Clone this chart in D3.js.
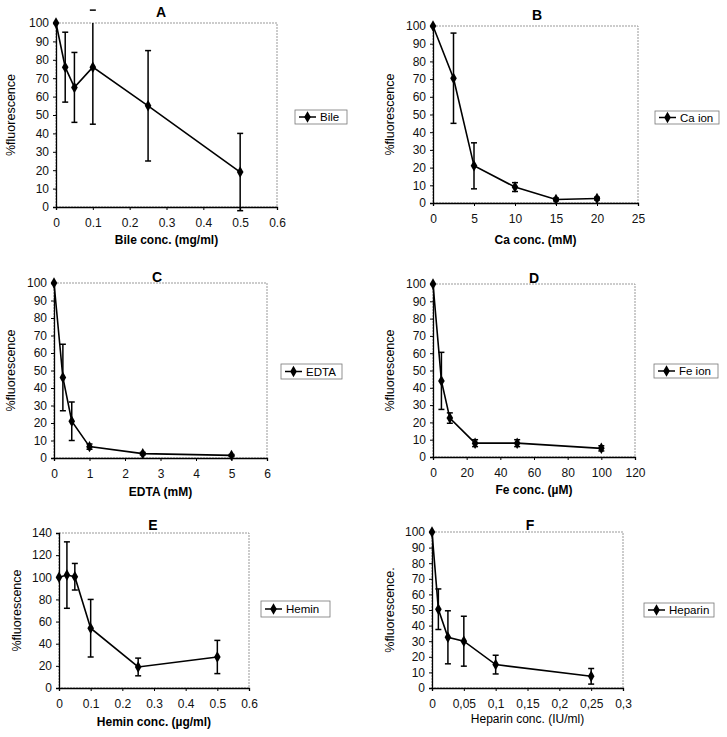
<!DOCTYPE html>
<html><head><meta charset="utf-8">
<script src="https://cdn.jsdelivr.net/npm/d3@7"></script>
<style>body{margin:0;background:#fff}svg{display:block}text{font-family:"Liberation Sans",Arial,sans-serif}</style>
</head><body>
<svg id="c" width="727" height="737"></svg>
<script>
// Panel A – Bile
const bileX = [0, 0.025, 0.05, 0.1, 0.25, 0.5];
const bileY = [100, 76, 65, 76, 55, 19];
const bileErr = [0, 19, 19, 31, 30, 21];
// Panel B – Ca ion
const caX = [0, 2.5, 5, 10, 15, 20];
const caY = [100, 70.5, 21, 9, 2, 2.5];
const caErr = [0, 25.5, 13, 2.5, 0.8, 0.8];
// Panel C – EDTA
const edtaX = [0, 0.25, 0.5, 1, 2.5, 5];
const edtaY = [100, 46, 21, 6.5, 2.5, 1.5];
const edtaErr = [0, 19, 11, 1.5, 0.7, 0.5];
// Panel D – Fe ion
const feX = [0, 5, 10, 25, 50, 100];
const feY = [100, 44, 22.5, 8, 8, 5];
const feErr = [0, 16.5, 3, 2, 2, 1.5];
// Panel E – Hemin
const heminX = [0, 0.025, 0.05, 0.1, 0.25, 0.5];
const heminY = [100, 102, 100.5, 54, 19, 28];
const heminErr = [0, 30, 12, 26, 8, 15];
// Panel F – Heparin
const heparinX = [0, 0.01, 0.025, 0.05, 0.1, 0.25];
const heparinY = [100, 50.5, 32.5, 30, 15, 7.5];
const heparinErr = [0, 13, 17, 16, 6, 5];

// tick labels
const xTicksA = ["0","0.1","0.2","0.3","0.4","0.5","0.6"];
const xTicksB = ["0","5","10","15","20","25"];
const xTicksC = ["0","1","2","3","4","5","6"];
const xTicksD = ["0","20","40","60","80","100","120"];
const xTicksE = ["0","0.1","0.2","0.3","0.4","0.5","0.6"];
const xTicksF = ["0","0,05","0,1","0,15","0,2","0,25","0,3"];

const panels = [
  {t:"A", x:bileX, y:bileY, e:bileErr, xt:xTicksA, xmax:0.6, ymax:100, ystep:10, name:"Bile", xlab:"Bile conc. (mg/ml)", xbold:true, ylab:"%fluorescence",
   L:56, R:277, T:23, B:207, tx:161, ty:17, lg:[295,110,52,14], xly:244, yl:15},
  {t:"B", x:caX, y:caY, e:caErr, xt:xTicksB, xmax:25, ymax:100, ystep:10, name:"Ca ion", xlab:"Ca conc. (mM)", xbold:true, ylab:"%fluorescence",
   L:433, R:638, T:26, B:203, tx:537, ty:20, lg:[655,111,64,13], xly:244, yl:394},
  {t:"C", x:edtaX, y:edtaY, e:edtaErr, xt:xTicksC, xmax:6, ymax:100, ystep:10, name:"EDTA", xlab:"EDTA (mM)", xbold:true, ylab:"%fluorescence",
   L:54, R:267, T:283, B:458, tx:157, ty:282, lg:[281,364,61,15], xly:496, yl:15},
  {t:"D", x:feX, y:feY, e:feErr, xt:xTicksD, xmax:120, ymax:100, ystep:10, name:"Fe ion", xlab:"Fe conc. (\u00b5M)", xbold:true, ylab:"%fluorescence",
   L:433, R:635, T:284, B:457, tx:534, ty:283, lg:[654,364,64,14], xly:494, yl:394},
  {t:"E", x:heminX, y:heminY, e:heminErr, xt:xTicksE, xmax:0.6, ymax:140, ystep:20, name:"Hemin", xlab:"Hemin conc. (\u00b5g/ml)", xbold:true, ylab:"%fluorescence",
   L:59, R:249, T:533, B:688, tx:153, ty:530, lg:[261,601,69,16], xly:726, yl:21},
  {t:"F", x:heparinX, y:heparinY, e:heparinErr, xt:xTicksF, xmax:0.3, ymax:100, ystep:10, name:"Heparin", xlab:"Heparin conc. (IU/ml)", xbold:false, ylab:"%fluorescence.",
   L:432, R:623, T:532, B:688, tx:530, ty:530, lg:[644,603,70,14], xly:723, yl:394}
];

const svg = d3.select("#c");
const diamond = d3.symbol().type(d3.symbolDiamond).size(38);

panels.forEach(p => {
  const g = svg.append("g");
  const x = d3.scaleLinear().domain([0, p.xmax]).range([p.L, p.R]);
  const y = d3.scaleLinear().domain([0, p.ymax]).range([p.B, p.T]);
  // plot box
  g.append("rect").attr("x", p.L).attr("y", p.T).attr("width", p.R - p.L).attr("height", p.B - p.T)
    .attr("fill", "none").attr("stroke", "#999").attr("stroke-width", 1).attr("stroke-dasharray", "2,1");
  // axes
  const nx = p.xt.length;
  const xTickVals = d3.range(nx).map(i => i * p.xmax / (nx - 1));
  const xa = g.append("g").attr("transform", `translate(0,${p.B})`)
    .call(d3.axisBottom(x).tickValues(xTickVals).tickFormat((d,i) => p.xt[i]).tickSize(3).tickPadding(8));
  const yTickVals = d3.range(0, p.ymax + 0.001, p.ystep);
  const ya = g.append("g").attr("transform", `translate(${p.L},0)`)
    .call(d3.axisLeft(y).tickValues(yTickVals).tickFormat(d3.format("d")).tickSize(3).tickPadding(4));
  [xa, ya].forEach(a => {
    a.select(".domain").attr("stroke", "#000").attr("stroke-width", 1.3);
    a.selectAll("line").attr("stroke", "#000");
    a.selectAll("text").attr("font-size", 12).attr("fill", "#111").attr("font-family", "Liberation Sans, Arial, sans-serif");
  });
  // error bars (vertical line clipped to plot top, caps drawn)
  const clipId = "clip" + p.t;
  svg.append("clipPath").attr("id", clipId).append("rect")
    .attr("x", p.L - 10).attr("y", p.T).attr("width", p.R - p.L + 20).attr("height", p.B - p.T + 10);
  const eb = g.append("g");
  p.x.forEach((xv, i) => {
    const err = p.e[i];
    if (err <= 0) return;
    const cx = x(xv), y1 = y(p.y[i] + err), y2 = y(p.y[i] - err);
    eb.append("line").attr("x1", cx).attr("x2", cx).attr("y1", y1).attr("y2", y2)
      .attr("stroke", "#000").attr("stroke-width", 1.5).attr("clip-path", `url(#${clipId})`);
    [y1, y2].forEach(yy => eb.append("line").attr("x1", cx - 3).attr("x2", cx + 3).attr("y1", yy).attr("y2", yy)
      .attr("stroke", "#000").attr("stroke-width", 1.5));
  });
  // line
  const line = d3.line().x((d,i) => x(p.x[i])).y((d,i) => y(p.y[i]));
  g.append("path").datum(p.y).attr("d", line).attr("fill", "none").attr("stroke", "#000").attr("stroke-width", 1.6);
  // markers
  g.selectAll(".m").data(p.y).enter().append("path")
    .attr("d", diamond).attr("transform", (d,i) => `translate(${x(p.x[i])},${y(d)})`).attr("fill", "#000");
  // title
  g.append("text").attr("x", p.tx).attr("y", p.ty).attr("text-anchor", "middle")
    .attr("font-size", 14).attr("font-weight", "bold").text(p.t);
  // x label
  g.append("text").attr("x", (p.L + p.R) / 2).attr("y", p.xly).attr("text-anchor", "middle")
    .attr("font-size", 12).attr("font-weight", p.xbold ? "bold" : "normal").text(p.xlab);
  // y label
  g.append("text").attr("transform", `translate(${p.yl},${(p.T + p.B) / 2}) rotate(-90)`)
    .attr("text-anchor", "middle").attr("font-size", 12.5).text(p.ylab);
  // legend
  const [lx, ly, lw, lh] = p.lg;
  g.append("rect").attr("x", lx).attr("y", ly).attr("width", lw).attr("height", lh)
    .attr("fill", "#fff").attr("stroke", "#777").attr("stroke-width", 0.8);
  const my = ly + lh / 2;
  g.append("line").attr("x1", lx + 4).attr("x2", lx + 21).attr("y1", my).attr("y2", my).attr("stroke", "#000").attr("stroke-width", 1.5);
  g.append("path").attr("d", diamond).attr("transform", `translate(${lx + 12.5},${my})`).attr("fill", "#000");
  g.append("text").attr("x", lx + 25).attr("y", my + 4).attr("font-size", 11.5).text(p.name);
});
</script>
</body></html>
